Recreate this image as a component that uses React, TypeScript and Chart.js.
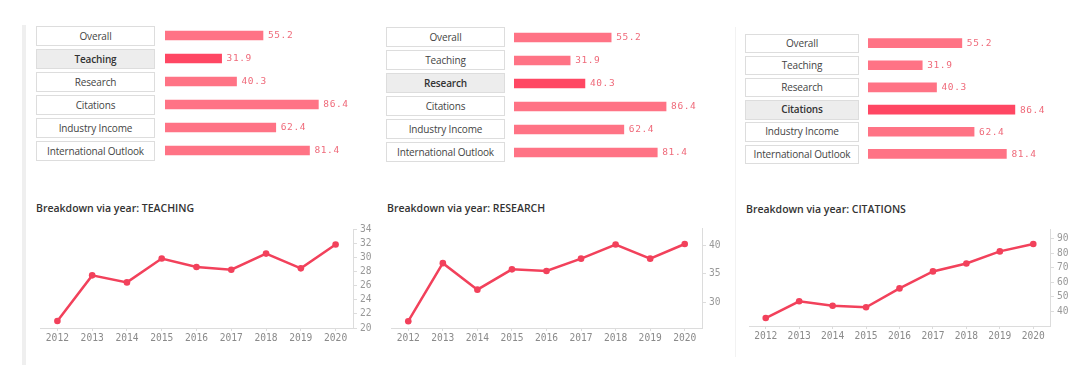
import React, { useEffect, useRef } from "react";
import { Chart, registerables } from "chart.js";
Chart.register(...registerables);

// ---- data ----
const metricNames = ["Overall", "Teaching", "Research", "Citations", "Industry Income", "International Outlook"];
const metricScores = [55.2, 31.9, 40.3, 86.4, 62.4, 81.4];
const years = ["2012", "2013", "2014", "2015", "2016", "2017", "2018", "2019", "2020"];
const teachingByYear = [21.0, 27.5, 26.5, 29.9, 28.7, 28.3, 30.6, 28.5, 31.9];
const researchByYear = [26.6, 36.9, 32.2, 35.8, 35.5, 37.7, 40.2, 37.7, 40.3];
const citationsByYear = [35.4, 46.9, 43.9, 42.8, 55.8, 67.5, 73.0, 81.3, 86.4];
const teachingTicks = [20, 22, 24, 26, 28, 30, 32, 34];
const researchTicks = [30, 35, 40];
const citationsTicks = [40, 50, 60, 70, 80, 90];
const titlePrefix = "Breakdown via year: ";
const breakdownNames = ["TEACHING", "RESEARCH", "CITATIONS"];

// ---- styles ----
const LINE = "#f2415b";
const BAR = "#ff7385";
const BAR_HI = "#ff4763";
const VALUE_TEXT = "#ef6a7a";
const AXIS = "#dcdcdc";
const MONO = '"DejaVu Sans Mono", monospace';
const SANS = '"Open Sans", sans-serif';

const valueLabelPlugin = {
  id: "valueLabels",
  afterDatasetsDraw(chart: any) {
    const ctx = chart.ctx;
    const meta = chart.getDatasetMeta(0);
    const data = chart.data.datasets[0].data as number[];
    ctx.save();
    ctx.font = `9.5px ${MONO}`;
    ctx.fillStyle = VALUE_TEXT;
    ctx.textBaseline = "middle";
    ctx.textAlign = "left";
    if ("letterSpacing" in ctx) (ctx as any).letterSpacing = "0.6px";
    meta.data.forEach((el: any, i: number) => {
      ctx.fillText(data[i].toFixed(1), el.x + 5, el.y + 0.5);
    });
    ctx.restore();
  },
};

function BarList(props: { left: number; top: number; width: number; height: number; pxPerUnit: number; highlight: number; thickness: number }) {
  const ref = useRef<HTMLCanvasElement>(null);
  const { left, top, width, height, pxPerUnit, highlight, thickness } = props;
  useEffect(() => {
    const chart = new Chart(ref.current as HTMLCanvasElement, {
      type: "bar",
      data: {
        labels: metricNames,
        datasets: [
          {
            data: metricScores,
            backgroundColor: metricScores.map((_, i) => (i === highlight ? BAR_HI : BAR)),
            barThickness: thickness,
            borderWidth: 0,
          },
        ],
      },
      options: {
        indexAxis: "y",
        animation: false,
        responsive: false,
        maintainAspectRatio: false,
        layout: { padding: 0 },
        plugins: { legend: { display: false }, tooltip: { enabled: false } },
        scales: {
          x: { display: false, min: 0, max: width / pxPerUnit },
          y: { display: false },
        },
      } as any,
      plugins: [valueLabelPlugin],
    });
    return () => chart.destroy();
  }, []);
  return (
    <canvas
      ref={ref}
      width={width}
      height={height}
      style={{ position: "absolute", left, top, width, height }}
    />
  );
}

function LabelBoxes(props: { left: number; top: number; width: number; height: number; pitch: number; highlight: number }) {
  const { left, top, width, height, pitch, highlight } = props;
  return (
    <>
      {metricNames.map((name, i) => (
        <div
          key={name}
          style={{
            position: "absolute",
            left,
            top: top + i * pitch,
            width,
            height,
            boxSizing: "border-box",
            border: "1px solid #dddddd",
            background: i === highlight ? "#ededed" : "#ffffff",
            color: i === highlight ? "#333" : "#444",
            font: `${i === highlight ? 600 : 400} 10px ${SANS}`,
            letterSpacing: "-0.15px",
            lineHeight: `${height - 2}px`,
            textAlign: "center",
            whiteSpace: "nowrap",
          }}
        >
          {name}
        </div>
      ))}
    </>
  );
}

function YearLine(props: { x0: number; x1: number; y0: number; y1: number; values: number[]; ticks: number[]; min: number; max: number }) {
  const ref = useRef<HTMLCanvasElement>(null);
  const { x0, x1, y0, y1, values, ticks, min, max } = props;
  const padTop = 8;
  const yAxisW = 32;
  const xAxisH = 22;
  const width = Math.round(x1 - x0 + yAxisW);
  const height = Math.round(y1 - y0 + padTop + xAxisH);
  useEffect(() => {
    const chart = new Chart(ref.current as HTMLCanvasElement, {
      type: "line",
      data: {
        labels: years,
        datasets: [
          {
            data: values,
            borderColor: LINE,
            backgroundColor: LINE,
            borderWidth: 2.5,
            pointRadius: 3.3,
            pointBackgroundColor: LINE,
            pointBorderWidth: 0,
            tension: 0,
          },
        ],
      },
      options: {
        animation: false,
        responsive: false,
        maintainAspectRatio: false,
        layout: { padding: { top: padTop, left: 0, right: 0, bottom: 0 } },
        plugins: { legend: { display: false }, tooltip: { enabled: false } },
        scales: {
          x: {
            type: "category",
            offset: true,
            grid: { display: true, drawOnChartArea: false, tickLength: 3, color: AXIS },
            border: { display: true, color: AXIS },
            ticks: { font: { family: MONO, size: 9.6 }, color: "#8a8a8a", padding: 2, maxRotation: 0, autoSkip: false },
            afterFit: (s: any) => {
              s.height = xAxisH;
            },
          },
          y: {
            position: "right",
            min,
            max,
            grid: { display: true, drawOnChartArea: false, tickLength: 4, color: AXIS },
            border: { display: true, color: AXIS },
            ticks: { font: { family: MONO, size: 9.6 }, color: "#999999", padding: 3, autoSkip: false },
            afterBuildTicks: (s: any) => {
              s.ticks = ticks.map((v) => ({ value: v }));
            },
            afterFit: (s: any) => {
              s.width = yAxisW;
            },
          },
        },
      } as any,
    });
    return () => chart.destroy();
  }, []);
  return (
    <canvas
      ref={ref}
      width={width}
      height={height}
      style={{ position: "absolute", left: x0, top: y0 - padTop, width, height }}
    />
  );
}

function Title(props: { left: number; top: number; name: string }) {
  return (
    <div
      style={{
        position: "absolute",
        left: props.left,
        top: props.top,
        font: `600 10.5px ${SANS}`,
        color: "#333",
        whiteSpace: "nowrap",
        lineHeight: "14px",
      }}
    >
      {titlePrefix + props.name}
    </div>
  );
}

export default function App() {
  return (
    <div
      style={{
        position: "absolute",
        left: 0,
        top: 0,
        width: 1080,
        height: 368,
        background: "#ffffff",
        overflow: "hidden",
        fontFamily: SANS,
      }}
    >
      {/* panel separators */}
      <div style={{ position: "absolute", left: 22, top: 25, width: 4, height: 340, background: "#efefef" }} />
      <div style={{ position: "absolute", left: 735, top: 27, width: 1, height: 330, background: "#f2f2f2" }} />

      {/* panel 1 */}
      <LabelBoxes left={36} top={25.5} width={119} height={20} pitch={23} highlight={1} />
      <BarList left={165} top={24} width={200} height={138} pxPerUnit={1.775} highlight={1} thickness={9} />
      <Title left={36} top={201} name={breakdownNames[0]} />
      <YearLine x0={36} x1={353} y0={229} y1={328} values={teachingByYear} ticks={teachingTicks} min={20} max={34} />

      {/* panel 2 */}
      <LabelBoxes left={386} top={27} width={119} height={20} pitch={23} highlight={2} />
      <BarList left={514} top={25.5} width={190} height={138} pxPerUnit={1.76} highlight={2} thickness={9} />
      <Title left={387} top={201} name={breakdownNames[1]} />
      <YearLine x0={387} x1={702} y0={228} y1={328} values={researchByYear} ticks={researchTicks} min={25.4} max={43} />

      {/* panel 3 */}
      <LabelBoxes left={745} top={33.5} width={114} height={19.6} pitch={22.2} highlight={3} />
      <BarList left={868} top={32} width={190} height={133} pxPerUnit={1.7} highlight={3} thickness={9} />
      <Title left={746} top={202} name={breakdownNames[2]} />
      <YearLine x0={745} x1={1050} y0={229} y1={326} values={citationsByYear} ticks={citationsTicks} min={29.9} max={96.2} />
    </div>
  );
}
